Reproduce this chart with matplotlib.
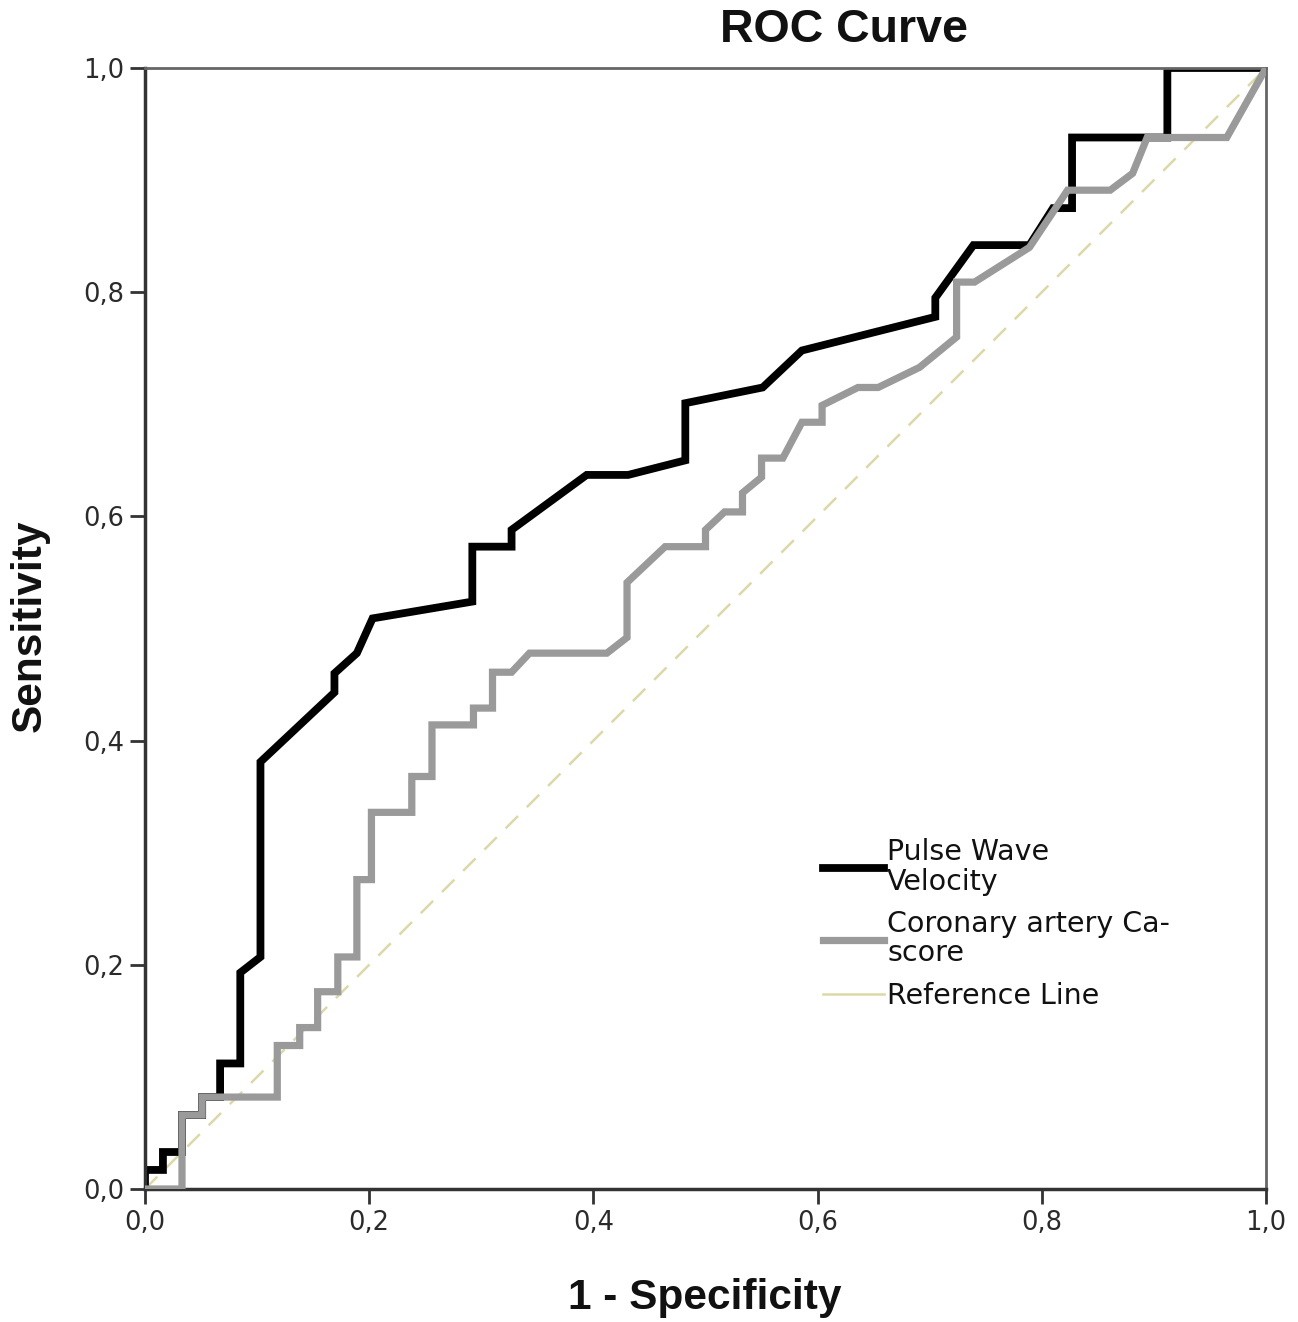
import matplotlib
matplotlib.use('Agg')
import matplotlib.pyplot as plt
from matplotlib.lines import Line2D

# Pulse Wave Velocity ROC curve (1 - specificity, sensitivity)
pwv_x = [0.0, 0.0, 0.016, 0.016, 0.033, 0.033, 0.051, 0.051, 0.067, 0.067, 0.085, 0.085,
         0.103, 0.103, 0.169, 0.169, 0.189, 0.203, 0.292, 0.292, 0.327, 0.327, 0.394,
         0.431, 0.482, 0.482, 0.551, 0.586, 0.705, 0.705, 0.739, 0.789, 0.810, 0.827,
         0.827, 0.912, 0.912, 1.0]
pwv_y = [0.0, 0.017, 0.017, 0.033, 0.033, 0.066, 0.066, 0.082, 0.082, 0.112, 0.112, 0.193,
         0.207, 0.381, 0.443, 0.460, 0.478, 0.509, 0.524, 0.573, 0.573, 0.588, 0.637,
         0.637, 0.650, 0.701, 0.715, 0.748, 0.778, 0.795, 0.842, 0.842, 0.875, 0.875,
         0.938, 0.938, 1.0, 1.0]

# Coronary artery Ca-score ROC curve
cac_x = [0.0, 0.033, 0.033, 0.051, 0.051, 0.118, 0.118, 0.138, 0.138, 0.154, 0.154, 0.172,
         0.172, 0.189, 0.189, 0.202, 0.202, 0.238, 0.238, 0.256, 0.256, 0.293, 0.293, 0.310,
         0.310, 0.327, 0.343, 0.412, 0.430, 0.430, 0.464, 0.500, 0.500, 0.517, 0.533, 0.533,
         0.550, 0.550, 0.569, 0.586, 0.604, 0.604, 0.636, 0.654, 0.691, 0.724, 0.724, 0.740,
         0.789, 0.823, 0.861, 0.881, 0.894, 0.965, 1.0]
cac_y = [0.0, 0.0, 0.066, 0.066, 0.082, 0.082, 0.128, 0.128, 0.144, 0.144, 0.176, 0.176,
         0.207, 0.207, 0.276, 0.276, 0.336, 0.336, 0.368, 0.368, 0.414, 0.414, 0.429, 0.429,
         0.461, 0.461, 0.478, 0.478, 0.492, 0.541, 0.573, 0.573, 0.588, 0.604, 0.604, 0.621,
         0.635, 0.652, 0.652, 0.684, 0.684, 0.699, 0.715, 0.715, 0.733, 0.760, 0.809, 0.809,
         0.840, 0.891, 0.891, 0.906, 0.938, 0.938, 1.0]

ticks = [0.0, 0.2, 0.4, 0.6, 0.8, 1.0]
tick_labels = ['0,0', '0,2', '0,4', '0,6', '0,8', '1,0']
legend_labels = ['Pulse Wave\nVelocity', 'Coronary artery Ca-\nscore', 'Reference Line']

plt.rcParams['font.family'] = 'DejaVu Sans'

fig = plt.figure(figsize=(12.98, 13.22), dpi=100)
ax = fig.add_axes([145/1298, 133/1322, 1121/1298, 1121/1322])

ax.plot([0, 1], [0, 1], color='#dcd8a8', lw=1.8, dashes=(7, 5), zorder=1)
ax.plot(pwv_x, pwv_y, color='black', lw=5.6, solid_joinstyle='miter', zorder=2)
ax.plot(cac_x, cac_y, color='#9a9a9a', lw=5.2, solid_joinstyle='miter', zorder=3)

ax.set_xlim(0, 1)
ax.set_ylim(0, 1)
ax.set_xticks(ticks)
ax.set_xticklabels(tick_labels, fontsize=18.5, color='#2a2a2a')
ax.set_yticks(ticks)
ax.set_yticklabels(tick_labels, fontsize=18.5, color='#2a2a2a')
ax.tick_params(length=11, width=2, color='#333333', pad=4)
for side in ['left', 'bottom']:
    ax.spines[side].set_linewidth(2.5)
    ax.spines[side].set_color('#333333')
for side in ['top', 'right']:
    ax.spines[side].set_linewidth(2)
    ax.spines[side].set_color('#666666')

fig.text(844/1298, 1 - 30/1322, 'ROC Curve', fontsize=33.5, fontweight='bold',
         family='Liberation Sans', ha='center', va='center', color='#111111')
fig.text(705/1298, 1 - 1298/1322, '1 - Specificity', fontsize=30.5, fontweight='bold',
         family='Liberation Sans', ha='center', va='center', color='#111111')
fig.text(30/1298, 1 - 626/1322, 'Sensitivity', fontsize=30.5, fontweight='bold',
         family='Liberation Sans', ha='center', va='center', rotation=90, color='#111111')

handles = [Line2D([], [], color='black', lw=5.6),
           Line2D([], [], color='#9a9a9a', lw=5.2),
           Line2D([], [], color='#dcd8a8', lw=1.8)]
leg = fig.legend(handles, legend_labels, loc='upper left',
                 bbox_to_anchor=(823/1298, 1 - 838/1322), frameon=False,
                 fontsize=20.5, handlelength=2.15, handletextpad=0.1,
                 labelspacing=0.5, borderaxespad=0, borderpad=0)
for t in leg.get_texts():
    t.set_linespacing(1.07)
    t.set_color('#111111')

fig.savefig('out.png', dpi=100)
